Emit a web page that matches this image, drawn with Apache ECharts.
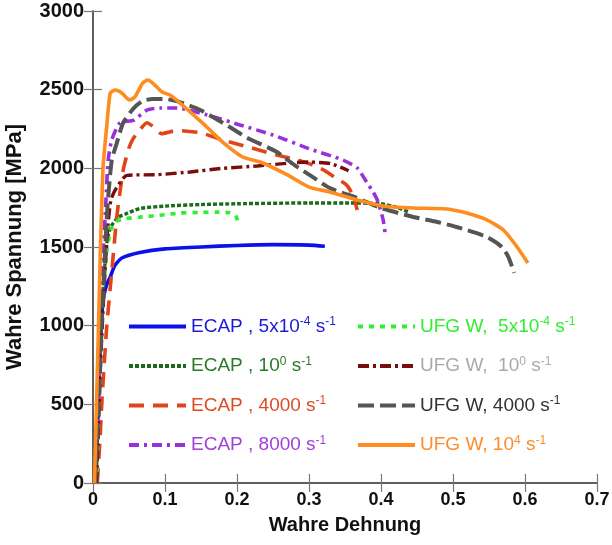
<!DOCTYPE html>
<html>
<head>
<meta charset="utf-8">
<script src="https://cdn.jsdelivr.net/npm/echarts@6/dist/echarts.min.js"></script>
<style>html,body{margin:0;padding:0;background:#fff}#c{width:612px;height:545px}</style>
</head>
<body>
<div id="c"></div>
<script>
// ---- data (true strain, true stress [MPa]) ----
const xTicks = [0, 0.1, 0.2, 0.3, 0.4, 0.5, 0.6, 0.7];
const yTicks = [0, 500, 1000, 1500, 2000, 2500, 3000];

const ecap5e4 = [[0.004,0],[0.008,600],[0.011,950],[0.014,1160],[0.019,1260],[0.024,1310],[0.03,1380],[0.04,1430],[0.065,1465],[0.1,1488],[0.15,1500],[0.2,1510],[0.25,1515],[0.3,1512],[0.322,1505]];
const ecap1 = [[0.004,0],[0.01,900],[0.015,1300],[0.02,1550],[0.025,1630],[0.035,1690],[0.045,1710],[0.065,1745],[0.1,1760],[0.15,1770],[0.2,1775],[0.3,1780],[0.35,1780],[0.4,1775],[0.42,1755],[0.44,1720]];
const ecap4000 = [[0.006,0],[0.01,300],[0.0125,530],[0.019,990],[0.026,1340],[0.033,1690],[0.042,1990],[0.05,2130],[0.056,2190],[0.065,2245],[0.075,2290],[0.085,2260],[0.095,2220],[0.11,2235],[0.12,2240],[0.15,2225],[0.18,2180],[0.22,2130],[0.255,2085],[0.283,2055],[0.3,2030],[0.32,1990],[0.335,1945],[0.352,1895],[0.361,1830],[0.367,1735]];
const ecap8000 = [[0.004,0],[0.008,600],[0.011,1000],[0.014,1430],[0.018,1800],[0.021,2050],[0.026,2180],[0.0375,2290],[0.056,2305],[0.075,2370],[0.093,2383],[0.117,2383],[0.158,2340],[0.204,2276],[0.25,2212],[0.3,2125],[0.347,2053],[0.367,2002],[0.38,1913],[0.389,1850],[0.396,1786],[0.403,1672],[0.406,1576]];
const ufg5e4 = [[0.005,0],[0.01,800],[0.015,1250],[0.02,1500],[0.025,1610],[0.031,1660],[0.045,1680],[0.065,1690],[0.1,1705],[0.12,1716],[0.15,1720],[0.17,1722],[0.19,1718],[0.198,1700],[0.203,1640]];
const ufg1 = [[0.005,0],[0.01,700],[0.015,1200],[0.02,1600],[0.025,1800],[0.033,1880],[0.047,1955],[0.09,1960],[0.135,1977],[0.18,2000],[0.228,2015],[0.274,2034],[0.3,2040],[0.33,2030],[0.355,1985]];
const ufg4000 = [[0.003,0],[0.008,500],[0.012,1000],[0.016,1400],[0.02,1750],[0.026,2050],[0.033,2160],[0.042,2290],[0.056,2380],[0.069,2428],[0.083,2441],[0.1,2441],[0.12,2422],[0.149,2371],[0.18,2290],[0.214,2195],[0.255,2105],[0.28,2020],[0.3,1960],[0.329,1875],[0.367,1811],[0.4,1748],[0.445,1691],[0.478,1659],[0.505,1627],[0.547,1564],[0.568,1500],[0.577,1436],[0.585,1335]];
const ufg1e4 = [[0.002,0],[0.006,700],[0.01,1436],[0.014,2008],[0.019,2263],[0.024,2479],[0.031,2498],[0.04,2479],[0.051,2434],[0.058,2453],[0.069,2542],[0.076,2561],[0.083,2542],[0.096,2485],[0.107,2466],[0.121,2415],[0.135,2358],[0.158,2263],[0.18,2167],[0.208,2072],[0.236,2034],[0.27,1958],[0.3,1881],[0.329,1850],[0.367,1799],[0.403,1761],[0.445,1748],[0.491,1742],[0.519,1716],[0.547,1672],[0.57,1608],[0.589,1500],[0.604,1398]];

const seriesNames = ['ECAP , 5x10-4 s-1','ECAP , 100 s-1','ECAP , 4000 s-1','ECAP , 8000 s-1',
                     'UFG W,  5x10-4 s-1','UFG W,  100 s-1','UFG W, 4000 s-1','UFG W, 104 s-1'];
// legend label parts: alternating normal / superscript
const legendParts = [
  ['ECAP , 5x10','-4',' s','-1'],
  ['ECAP , 10','0',' s','-1'],
  ['ECAP , 4000 s','-1'],
  ['ECAP , 8000 s','-1'],
  ['UFG W,  5x10','-4',' s','-1'],
  ['UFG W,  10','0',' s','-1'],
  ['UFG W, 4000 s','-1'],
  ['UFG W, 10','4',' s','-1']
];
const seriesData = [ecap5e4, ecap1, ecap4000, ecap8000, ufg5e4, ufg1, ufg4000, ufg1e4];

// ---- styles ----
const lineColors = ['#0a12e8','#1b6b1b','#e2441a','#9a30dc','#30ee30','#7a0c0c','#555555','#ff8c1e'];
const textColors = ['#1a1ad8','#2a7a2a','#e04a22','#a040d8','#30ee30','#aaaaaa','#333333','#ff8c2a'];
const lineTypes = ['solid',[4,2],[15,9],[10,5,3,5],[5,6],[11,4,3,4],[16,6],'solid'];
const lineWidths = [3.6,3.4,3.6,3.6,3.6,3.4,4,3.6];

const font = 'Liberation Sans, Arial, sans-serif';
const rich = {};
textColors.forEach((c,i)=>{
  rich['t'+i] = {fontSize:19, color:c, fontFamily:font};
  rich['s'+i] = {fontSize:12, color:c, verticalAlign:'top', fontFamily:font, padding:[0,0,9,0]};
});
function fmt(name){
  const i = seriesNames.indexOf(name);
  return legendParts[i].map((p,k)=>'{'+(k%2? 's':'t')+i+'|'+p+'}').join('');
}

const chart = echarts.init(document.getElementById('c'), null, {renderer:'canvas'});
const axisLineStyle = {color:'#555', width:1.5};
const legendCommon = {
  orient:'vertical', itemWidth:57, itemHeight:14, itemGap:19.5,
  formatter: fmt, textStyle:{rich:rich, fontSize:19}, lineStyle:{width:4},
  itemStyle:{opacity:0, borderWidth:0},
  selectedMode:false, padding:0
};
chart.setOption({
  animation:false,
  grid:{left:93, right:15, top:11, bottom:62, containLabel:false, outerBoundsMode:'none'},
  xAxis:[{
    type:'value', min:0, max:0.7, interval:0.1, position:'bottom',
    name:'Wahre Dehnung', nameLocation:'middle', nameGap:32,
    nameTextStyle:{fontSize:20, fontWeight:'bold', color:'#111', fontFamily:font},
    axisLine:{show:true, lineStyle:axisLineStyle},
    axisTick:{show:true, inside:true, length:9, lineStyle:{color:'#777', width:1.2}},
    axisLabel:{fontSize:18, fontWeight:'bold', color:'#111', margin:8, fontFamily:font,
      formatter:v=>{const t=xTicks.find(x=>Math.abs(x-v)<1e-9); return t===undefined?'':String(t);}},
    splitLine:{show:false}
  },{
    type:'value', min:0, max:0.7, interval:0.1, position:'top',
    axisLine:{show:true, lineStyle:axisLineStyle},
    axisTick:{show:true, inside:true, length:9, lineStyle:{color:'#777', width:1.2}},
    axisLabel:{show:false}, splitLine:{show:false}
  }],
  yAxis:[{
    type:'value', min:0, max:3000, interval:500, position:'left',
    name:'Wahre Spannung [MPa]', nameLocation:'middle', nameGap:67,
    nameTextStyle:{fontSize:22, fontWeight:'bold', color:'#111', fontFamily:font},
    axisLine:{show:true, lineStyle:axisLineStyle},
    axisTick:{show:true, inside:true, length:9, lineStyle:{color:'#777', width:1.2}},
    axisLabel:{fontSize:20, fontWeight:'bold', color:'#111', margin:9, fontFamily:font,
      formatter:v=>{const t=yTicks.find(x=>x===v); return t===undefined?'':String(t);}},
    splitLine:{show:false}
  },{
    type:'value', min:0, max:3000, interval:500, position:'right',
    axisLine:{show:true, lineStyle:axisLineStyle},
    axisTick:{show:true, inside:true, length:9, lineStyle:{color:'#777', width:1.2}},
    axisLabel:{show:false}, splitLine:{show:false}
  }],
  legend:[
    Object.assign({}, legendCommon, {left:127, top:316, data:seriesNames.slice(0,4)}),
    Object.assign({}, legendCommon, {left:356, top:316, data:seriesNames.slice(4,8)})
  ],
  series: seriesData.map((d,i)=>({
    name:seriesNames[i], type:'line', data:d, xAxisIndex:0, yAxisIndex:0,
    showSymbol:false, symbol:'none', smooth:0.2,
    lineStyle:{color:lineColors[i], width:lineWidths[i], type:lineTypes[i]},
    itemStyle:{color:lineColors[i]}, z: 2+i
  }))
});
</script>
</body>
</html>
